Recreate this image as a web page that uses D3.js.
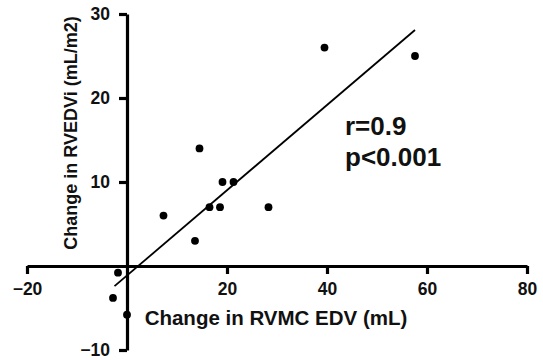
<!DOCTYPE html>
<html>
<head>
<meta charset="utf-8">
<script src="https://cdn.jsdelivr.net/npm/d3@7"></script>
<style>
  html, body { margin: 0; padding: 0; background: #fff; }
  svg { display: block; font-family: "Liberation Sans", Arial, sans-serif; font-weight: bold; }
</style>
</head>
<body>
<svg id="chart" width="543" height="360"></svg>
<script>
// ---- data ----
const xValues = [39.5, 57.6, 14.5, 19.1, 21.3, 7.3, 16.5, 18.6, 28.3, 13.6, -1.8, -2.8, 0];
const yValues = [26, 25, 14, 10, 10, 6, 7, 7, 7, 3, -0.8, -3.8, -5.8];
const fitX = [-2.5, 57.6];
const fitY = [-2.4, 28.1];
const xTicks = [-20, 20, 40, 60, 80];
const yTicks = [-10, 10, 20, 30];
const xDomain = [-20, 80];
const yDomain = [-10, 30];
const xTitle = "Change in RVMC EDV (mL)";
const yTitle = "Change in RVEDVi (mL/m2)";
const statLines = ["r=0.9", "p<0.001"];

// ---- chart ----
const svg = d3.select("#chart");
const x = d3.scaleLinear().domain(xDomain).range([27, 527]);
const y = d3.scaleLinear().domain(yDomain).range([350, 14]);

const xAxis = svg.append("g")
  .attr("transform", `translate(0,${y(0)})`)
  .call(d3.axisBottom(x).tickValues(xTicks).tickSize(8).tickSizeOuter(0).tickPadding(9).tickFormat(d3.format("d")));
const yAxis = svg.append("g")
  .attr("transform", `translate(${x(0)},0)`)
  .call(d3.axisLeft(y).tickValues(yTicks).tickSize(8).tickSizeOuter(0).tickPadding(9).tickFormat(d3.format("d")));

[xAxis, yAxis].forEach(g => {
  g.select(".domain").attr("stroke", "#000").attr("stroke-width", 3.2);
  g.selectAll(".tick line").attr("stroke", "#000").attr("stroke-width", 3.2);
  g.selectAll(".tick text").attr("fill", "#111").style("font-size", "17.5px")
    .style("font-family", "'Liberation Sans', Arial, sans-serif").style("font-weight", "bold");
});

// fit line
svg.append("line")
  .attr("x1", x(fitX[0])).attr("y1", y(fitY[0]))
  .attr("x2", x(fitX[1])).attr("y2", y(fitY[1]))
  .attr("stroke", "#000").attr("stroke-width", 1.8);

// points
svg.append("g").selectAll("circle")
  .data(xValues.map((v, i) => [v, yValues[i]]))
  .join("circle")
  .attr("cx", d => x(d[0])).attr("cy", d => y(d[1]))
  .attr("r", 3.9).attr("fill", "#000");

// axis titles
svg.append("text")
  .attr("x", 276).attr("y", 325)
  .attr("text-anchor", "middle")
  .style("font-size", "20.5px").attr("fill", "#111")
  .text(xTitle);

svg.append("text")
  .attr("transform", "translate(77,133) rotate(-90)")
  .attr("text-anchor", "middle")
  .style("font-size", "18px").attr("fill", "#111")
  .text(yTitle);

// stats
svg.append("g").selectAll("text")
  .data(statLines)
  .join("text")
  .attr("x", 345).attr("y", (d, i) => 135 + i * 31)
  .style("font-size", "26px").attr("fill", "#111")
  .text(d => d);
</script>
</body>
</html>
